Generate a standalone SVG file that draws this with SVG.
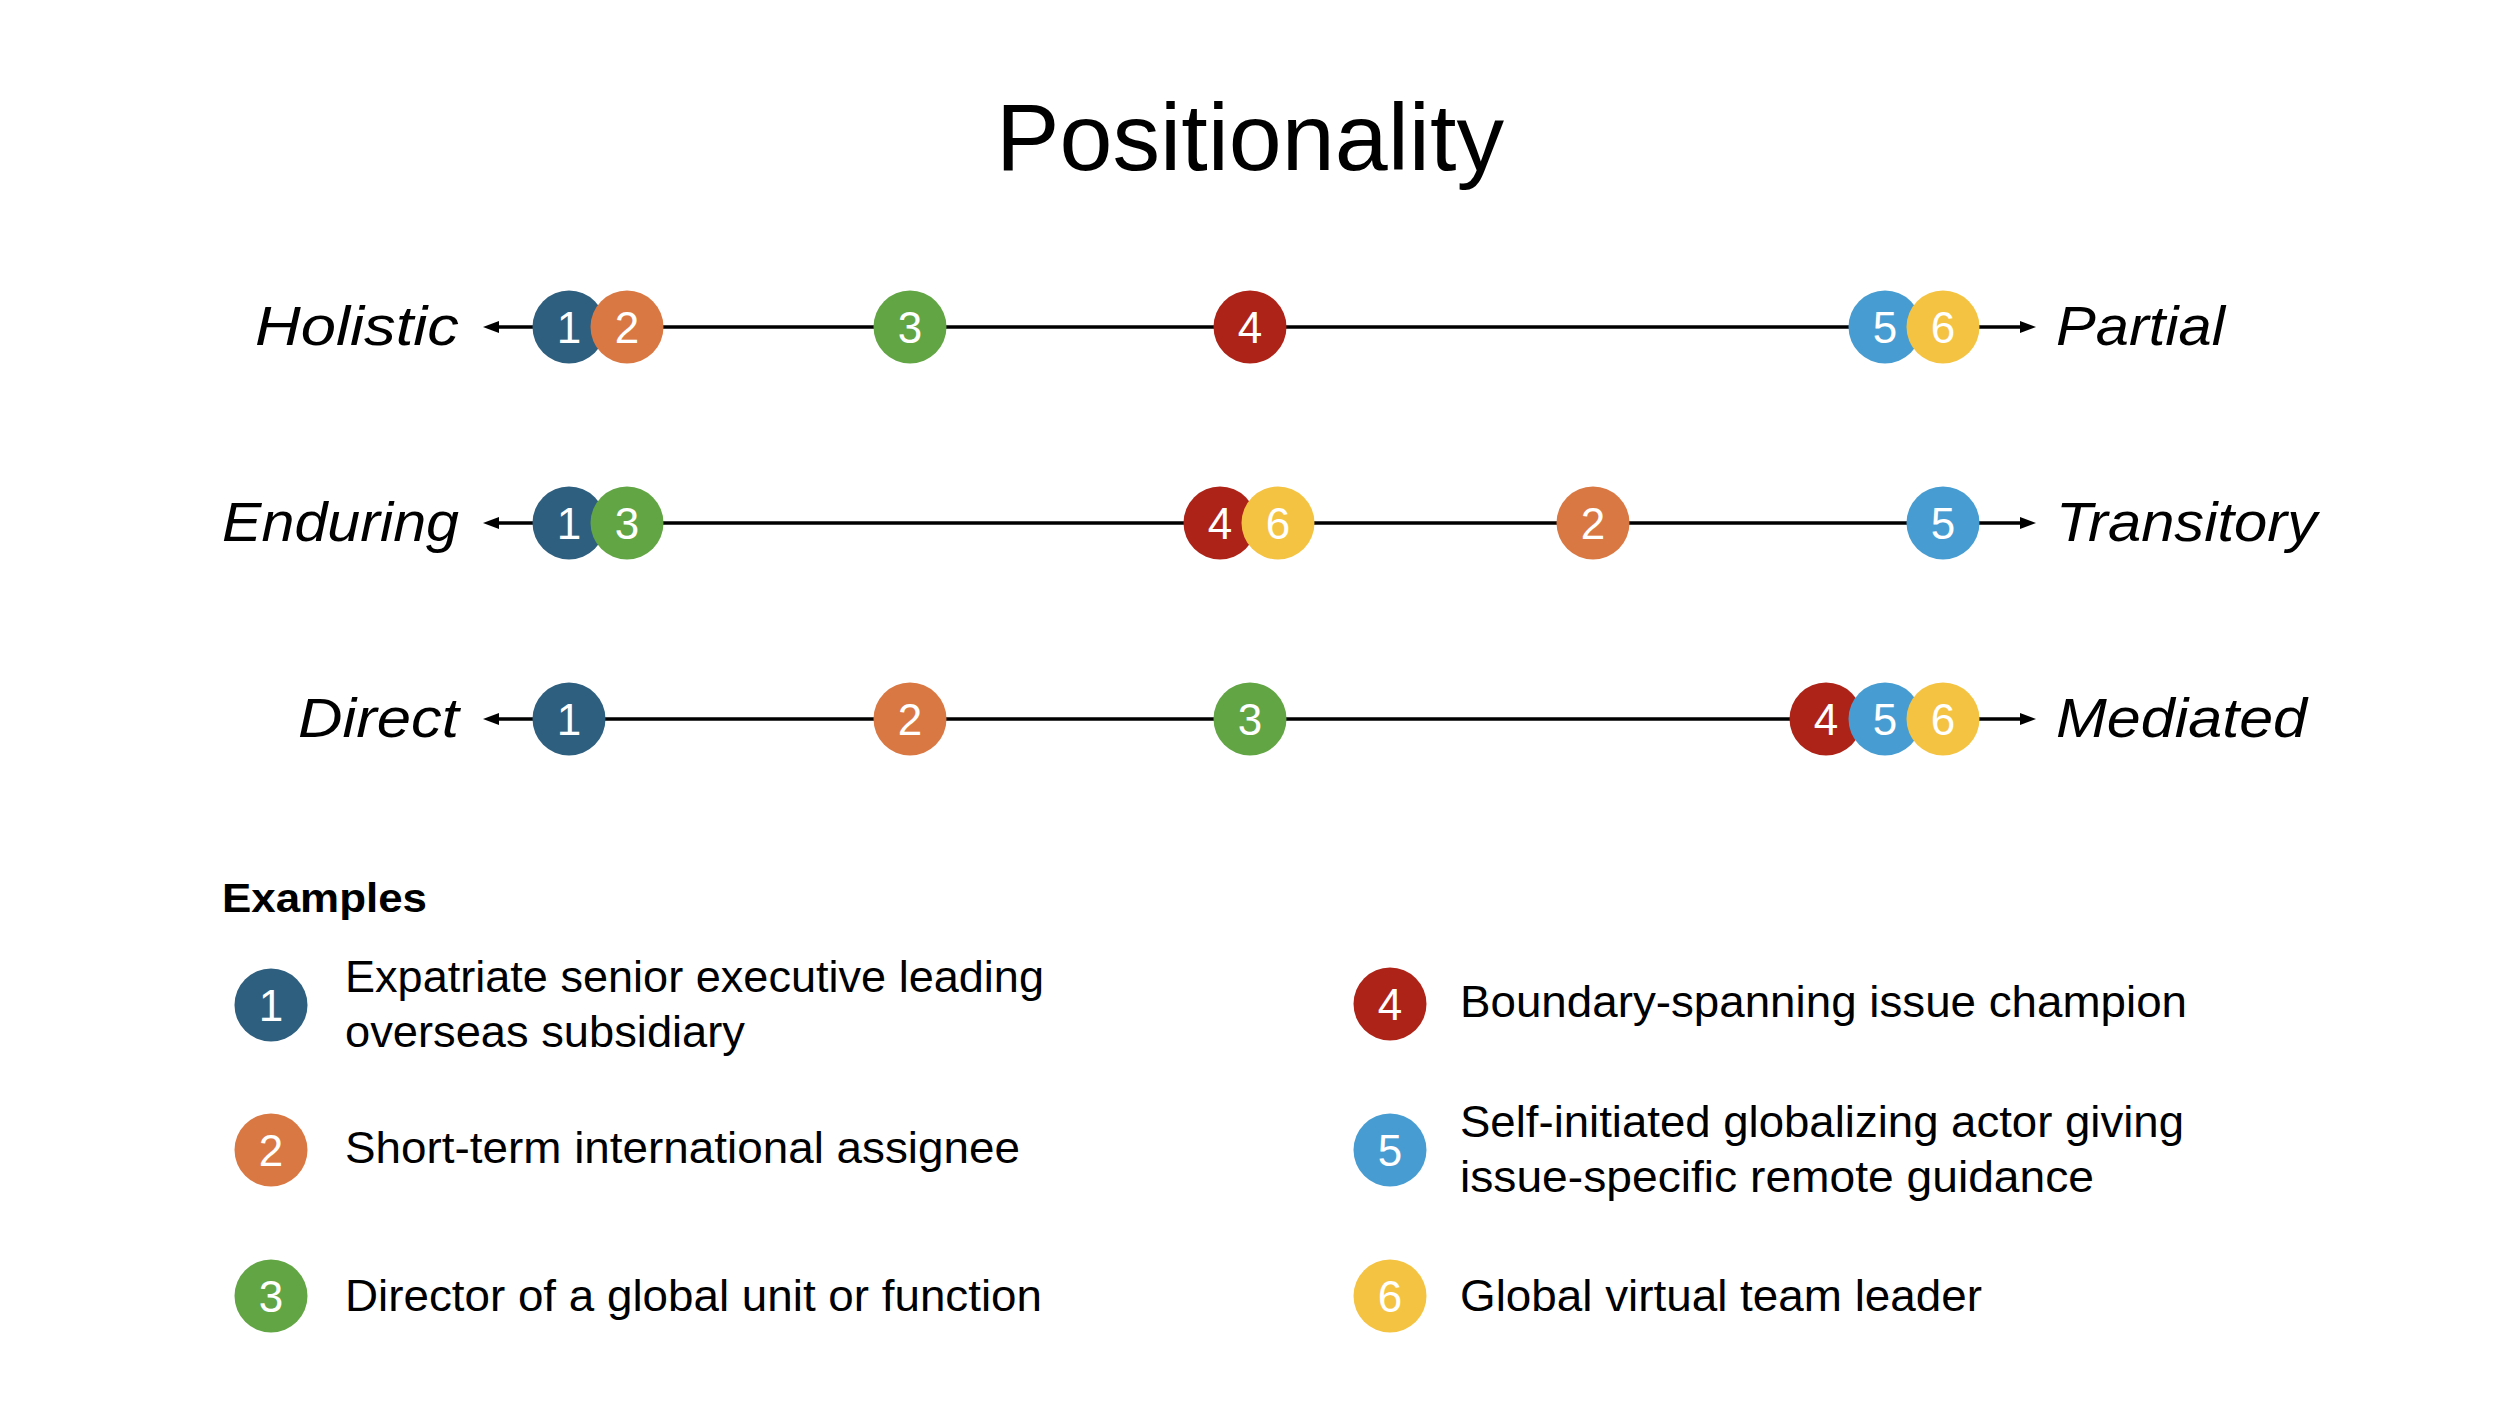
<svg xmlns="http://www.w3.org/2000/svg" width="2500" height="1404" viewBox="0 0 2500 1404">
<defs>
<marker id="arr" markerUnits="userSpaceOnUse" markerWidth="16" markerHeight="12" refX="4" refY="6" orient="auto-start-reverse">
<path d="M0,0 L16,6 L0,12 z" fill="#000"/>
</marker>
</defs>
<style>
.t{font-family:"Liberation Sans",Arial,sans-serif;fill:#000}
.title{font-size:95px}
.lab{font-size:56px;font-style:italic}
.leg{font-size:44px}
.hdr{font-size:40px;font-weight:bold}
.n{font-family:"Liberation Sans",Arial,sans-serif;font-size:44px;fill:#fff;text-anchor:middle}
.axis{stroke:#000;stroke-width:3.5;fill:none}
.c1{fill:#2E5F7F}.c2{fill:#DA7843}.c3{fill:#62A544}.c4{fill:#AE2318}.c5{fill:#479DD1}.c6{fill:#F5C342}
</style>
<rect width="2500" height="1404" fill="#fff"/>
<text class="t title" x="1250" y="170" text-anchor="middle" textLength="508" lengthAdjust="spacingAndGlyphs">Positionality</text>

<g id="connectors">
<line class="axis" x1="495" y1="327" x2="2024" y2="327" marker-start="url(#arr)" marker-end="url(#arr)"/>
<line class="axis" x1="495" y1="523" x2="2024" y2="523" marker-start="url(#arr)" marker-end="url(#arr)"/>
<line class="axis" x1="495" y1="719" x2="2024" y2="719" marker-start="url(#arr)" marker-end="url(#arr)"/>
</g>

<g id="axis-labels">
<text class="t lab" x="459" y="345" text-anchor="end" textLength="204" lengthAdjust="spacingAndGlyphs">Holistic</text>
<text class="t lab" x="2056" y="345" textLength="169" lengthAdjust="spacingAndGlyphs">Partial</text>
<text class="t lab" x="459" y="541" text-anchor="end" textLength="237" lengthAdjust="spacingAndGlyphs">Enduring</text>
<text class="t lab" x="2056" y="541" textLength="261" lengthAdjust="spacingAndGlyphs">Transitory</text>
<text class="t lab" x="459" y="737" text-anchor="end" textLength="161" lengthAdjust="spacingAndGlyphs">Direct</text>
<text class="t lab" x="2056" y="737" textLength="251" lengthAdjust="spacingAndGlyphs">Mediated</text>
</g>

<g id="row1">
<g id="r1-1"><circle class="c1" cx="569" cy="327" r="36.5"/><text class="n" x="569" y="343">1</text></g>
<g id="r1-2"><circle class="c2" cx="627" cy="327" r="36.5"/><text class="n" x="627" y="343">2</text></g>
<g id="r1-3"><circle class="c3" cx="910" cy="327" r="36.5"/><text class="n" x="910" y="343">3</text></g>
<g id="r1-4"><circle class="c4" cx="1250" cy="327" r="36.5"/><text class="n" x="1250" y="343">4</text></g>
<g id="r1-5"><circle class="c5" cx="1885" cy="327" r="36.5"/><text class="n" x="1885" y="343">5</text></g>
<g id="r1-6"><circle class="c6" cx="1943" cy="327" r="36.5"/><text class="n" x="1943" y="343">6</text></g>
</g>

<g id="row2">
<g id="r2-1"><circle class="c1" cx="569" cy="523" r="36.5"/><text class="n" x="569" y="539">1</text></g>
<g id="r2-3"><circle class="c3" cx="627" cy="523" r="36.5"/><text class="n" x="627" y="539">3</text></g>
<g id="r2-4"><circle class="c4" cx="1220" cy="523" r="36.5"/><text class="n" x="1220" y="539">4</text></g>
<g id="r2-6"><circle class="c6" cx="1278" cy="523" r="36.5"/><text class="n" x="1278" y="539">6</text></g>
<g id="r2-2"><circle class="c2" cx="1593" cy="523" r="36.5"/><text class="n" x="1593" y="539">2</text></g>
<g id="r2-5"><circle class="c5" cx="1943" cy="523" r="36.5"/><text class="n" x="1943" y="539">5</text></g>
</g>

<g id="row3">
<g id="r3-1"><circle class="c1" cx="569" cy="719" r="36.5"/><text class="n" x="569" y="735">1</text></g>
<g id="r3-2"><circle class="c2" cx="910" cy="719" r="36.5"/><text class="n" x="910" y="735">2</text></g>
<g id="r3-3"><circle class="c3" cx="1250" cy="719" r="36.5"/><text class="n" x="1250" y="735">3</text></g>
<g id="r3-4"><circle class="c4" cx="1826" cy="719" r="36.5"/><text class="n" x="1826" y="735">4</text></g>
<g id="r3-5"><circle class="c5" cx="1885" cy="719" r="36.5"/><text class="n" x="1885" y="735">5</text></g>
<g id="r3-6"><circle class="c6" cx="1943" cy="719" r="36.5"/><text class="n" x="1943" y="735">6</text></g>
</g>

<g id="legend">
<text class="t hdr" x="222" y="912" textLength="205" lengthAdjust="spacingAndGlyphs">Examples</text>
<g id="ex1"><circle class="c1" cx="271" cy="1005" r="36.5"/><text class="n" x="271" y="1021">1</text>
<text class="t leg" x="345" y="992" textLength="699" lengthAdjust="spacingAndGlyphs">Expatriate senior executive leading</text>
<text class="t leg" x="345" y="1047" textLength="400" lengthAdjust="spacingAndGlyphs">overseas subsidiary</text></g>
<g id="ex2"><circle class="c2" cx="271" cy="1150" r="36.5"/><text class="n" x="271" y="1166">2</text>
<text class="t leg" x="345" y="1163" textLength="675" lengthAdjust="spacingAndGlyphs">Short-term international assignee</text></g>
<g id="ex3"><circle class="c3" cx="271" cy="1296" r="36.5"/><text class="n" x="271" y="1312">3</text>
<text class="t leg" x="345" y="1311" textLength="697" lengthAdjust="spacingAndGlyphs">Director of a global unit or function</text></g>
<g id="ex4"><circle class="c4" cx="1390" cy="1004" r="36.5"/><text class="n" x="1390" y="1020">4</text>
<text class="t leg" x="1460" y="1017" textLength="727" lengthAdjust="spacingAndGlyphs">Boundary-spanning issue champion</text></g>
<g id="ex5"><circle class="c5" cx="1390" cy="1150" r="36.5"/><text class="n" x="1390" y="1166">5</text>
<text class="t leg" x="1460" y="1137" textLength="724" lengthAdjust="spacingAndGlyphs">Self-initiated globalizing actor giving</text>
<text class="t leg" x="1460" y="1192" textLength="634" lengthAdjust="spacingAndGlyphs">issue-specific remote guidance</text></g>
<g id="ex6"><circle class="c6" cx="1390" cy="1296" r="36.5"/><text class="n" x="1390" y="1312">6</text>
<text class="t leg" x="1460" y="1311" textLength="522" lengthAdjust="spacingAndGlyphs">Global virtual team leader</text></g>
</g>
</svg>
